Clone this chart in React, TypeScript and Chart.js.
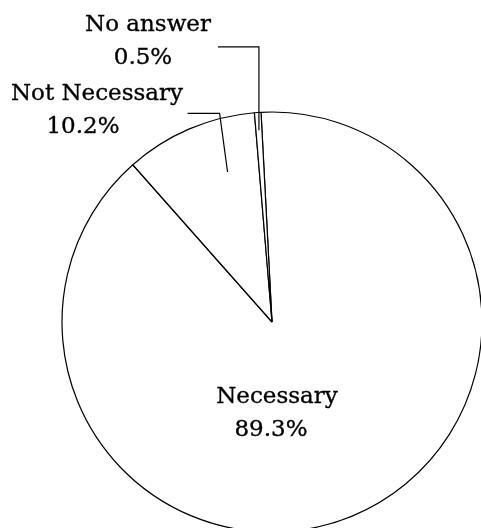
import React, { useEffect, useRef } from "react";
import { Chart, registerables } from "chart.js";

Chart.register(...registerables);

const categories = ["Necessary", "Not Necessary", "No answer"];
const values = [89.3, 10.2, 0.5];
const valueLabels = values.map((v) => `${v.toFixed(1)}%`);

const FONT = '23px "DejaVu Serif"';

const deg = (d: number) => (d * Math.PI) / 180;

const labelPlugin = {
  id: "pieLabels",
  afterDatasetsDraw(chart: any) {
    const ctx = chart.ctx as CanvasRenderingContext2D;
    const meta = chart.getDatasetMeta(0);
    const arcs = meta.data;
    const p = arcs[0].getProps(["x", "y", "outerRadius"], true);
    const cx = p.x, cy = p.y, R = p.outerRadius;
    const polar = (thetaTop: number, r: number) => ({
      x: cx + r * Math.cos(deg(thetaTop - 90)),
      y: cy + r * Math.sin(deg(thetaTop - 90)),
    });
    ctx.save();
    ctx.strokeStyle = "#000";
    ctx.lineWidth = 1.2;

    // No answer leader: from the slice's middle, straight up, then left
    const na = arcs[2].getProps(["startAngle", "endAngle"], true);
    const naMid = (na.startAngle + na.endAngle) / 2;
    const naA = { x: cx + 0.915 * R * Math.cos(naMid), y: cy + 0.915 * R * Math.sin(naMid) };
    const naTopY = cy - 1.31 * R;
    ctx.beginPath();
    ctx.moveTo(naA.x, naA.y);
    ctx.lineTo(naA.x, naTopY);
    ctx.lineTo(cx - 54, naTopY);
    ctx.stroke();

    // Not Necessary leader
    const nnA = polar(-16.5, 0.745 * R);
    const nnB = polar(-14.1, 1.024 * R);
    ctx.beginPath();
    ctx.moveTo(nnA.x, nnA.y);
    ctx.lineTo(nnB.x, nnB.y);
    ctx.lineTo(nnB.x - 32, nnB.y);
    ctx.stroke();

    ctx.fillStyle = "#000";
    ctx.strokeStyle = "#000";
    ctx.lineWidth = 0.35;
    ctx.font = FONT;
    ctx.textAlign = "center";
    ctx.textBaseline = "alphabetic";
    const put = (t: string, x: number, y: number) => {
      ctx.fillText(t, x, y);
      ctx.strokeText(t, x, y);
    };
    // No answer
    put(categories[2], cx - 124, cy - 291);
    put(valueLabels[2], cx - 129, cy - 258);
    // Not Necessary
    put(categories[1], cx - 175, cy - 222);
    put(valueLabels[1], cx - 189, cy - 189);
    // Necessary
    put(categories[0], cx + 5, cy + 81);
    put(valueLabels[0], cx - 1, cy + 114);
    ctx.restore();
  },
};

export default function App() {
  const ref = useRef<HTMLCanvasElement>(null);
  useEffect(() => {
    document.body.style.margin = "0";
    document.documentElement.style.overflow = "hidden";
    const chart = new Chart(ref.current!, {
      type: "pie",
      data: {
        labels: categories,
        datasets: [
          {
            data: values,
            backgroundColor: "#ffffff",
            borderColor: "#000000",
            borderWidth: 1.2,
            clip: false,
          } as any,
        ],
      },
      options: {
        responsive: false,
        animation: false,
        rotation: -3,
        radius: 210,
        layout: { padding: { left: 63, right: 0, top: 116, bottom: 0 } },
        plugins: { legend: { display: false }, tooltip: { enabled: false } },
      } as any,
      plugins: [labelPlugin],
    });
    return () => chart.destroy();
  }, []);
  return (
    <div style={{ position: "absolute", left: 0, top: 0, width: 481, height: 528, overflow: "hidden", background: "#fff" }}>
      <canvas ref={ref} width={481} height={528} />
    </div>
  );
}
